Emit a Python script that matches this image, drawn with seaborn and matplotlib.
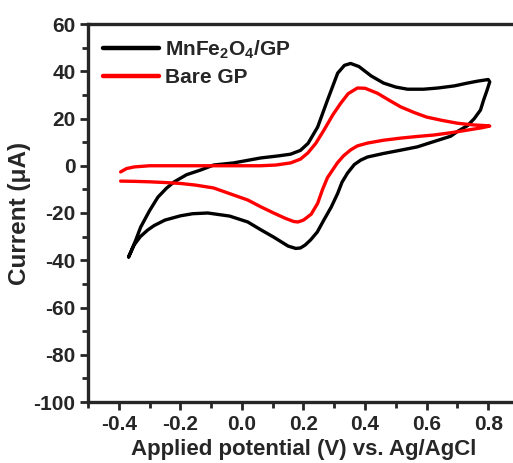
import numpy as np
import pandas as pd
import seaborn as sns
import matplotlib
matplotlib.use('Agg')
import matplotlib.pyplot as plt
from matplotlib.ticker import MultipleLocator

sns.set_style('ticks')
plt.rcParams['font.family'] = ['Liberation Sans', 'DejaVu Sans']
plt.rcParams['font.weight'] = 'bold'
plt.rcParams['axes.unicode_minus'] = False
plt.rcParams['mathtext.fontset'] = 'custom'
plt.rcParams['mathtext.rm'] = 'Liberation Sans:bold'
plt.rcParams['mathtext.bf'] = 'Liberation Sans:bold'
plt.rcParams['mathtext.default'] = 'bf'

# MnFe2O4/GP cyclic voltammogram (closed loop)
mn_v = [-0.368, -0.345, -0.329, -0.30, -0.273, -0.245, -0.221, -0.18, -0.134, -0.092,
        -0.027, 0.061, 0.120, 0.158, 0.19, 0.215, 0.246, 0.278, 0.311, 0.333, 0.353,
        0.38, 0.42, 0.46, 0.50, 0.538, 0.59, 0.636, 0.69, 0.733, 0.765, 0.79, 0.80,
        0.805, 0.795, 0.785, 0.775, 0.755, 0.733, 0.70, 0.678, 0.613, 0.57, 0.516,
        0.46, 0.408, 0.386, 0.365, 0.343, 0.325, 0.311, 0.29, 0.266, 0.245, 0.223,
        0.205, 0.19, 0.175, 0.15, 0.103, 0.06, 0.019, -0.04, -0.111, -0.16, -0.2,
        -0.25, -0.285, -0.306, -0.33, -0.35, -0.368]
mn_i = [-38.6, -31.5, -26.0, -19.0, -13.3, -9.5, -6.9, -3.8, -1.8, 0.3,
        1.2, 3.3, 4.2, 4.9, 6.5, 9.5, 16.4, 27.8, 39.2, 42.5, 43.3,
        42.0, 38.0, 35.0, 33.3, 32.4, 32.4, 32.9, 33.8, 35.0, 35.8, 36.3, 36.5,
        35.5, 31.5, 27.8, 23.6, 20.0, 17.0, 14.5, 12.5, 9.8, 8.0, 6.6,
        5.2, 3.7, 2.4, 0.5, -3.1, -7.0, -11.7, -17.5, -23.0, -28.0, -31.4,
        -33.6, -34.8, -35.0, -34.0, -30.2, -27.0, -23.8, -21.3, -20.0, -20.3, -21.2,
        -23.0, -25.3, -27.2, -30.0, -33.5, -38.6]

# Bare GP cyclic voltammogram
gp_v = [-0.394, -0.375, -0.35, -0.30, -0.20, -0.10, 0.0, 0.06, 0.11, 0.158, 0.19,
        0.214, 0.24, 0.266, 0.295, 0.32, 0.345, 0.375, 0.40, 0.44, 0.48, 0.516,
        0.56, 0.60, 0.65, 0.70, 0.75, 0.79, 0.805, 0.78, 0.733, 0.68, 0.623,
        0.57, 0.516, 0.46, 0.408, 0.375, 0.353, 0.33, 0.31, 0.278, 0.262, 0.246,
        0.225, 0.2, 0.182, 0.168, 0.14, 0.103, 0.06, 0.019, -0.04, -0.092, -0.15,
        -0.199, -0.25, -0.30, -0.35, -0.394]
gp_i = [-2.6, -1.2, -0.5, 0.0, 0.0, 0.0, 0.0, 0.0, 0.3, 1.2, 2.8,
        5.4, 9.5, 15.0, 21.5, 26.3, 30.5, 32.9, 32.8, 30.7, 27.6, 24.9,
        22.5, 20.6, 19.2, 18.0, 17.3, 17.0, 16.8, 16.1, 15.1, 14.0, 13.0,
        12.4, 11.7, 10.8, 9.6, 8.4, 6.7, 4.2, 1.2, -5.0, -10.0, -15.9,
        -20.5, -23.0, -23.8, -23.6, -22.2, -20.0, -17.3, -14.5, -11.8, -9.4, -8.2,
        -7.5, -7.1, -6.8, -6.6, -6.5]

mn = pd.DataFrame({'v': mn_v, 'i': mn_i})
gp = pd.DataFrame({'v': gp_v, 'i': gp_i})

fig = plt.figure(figsize=(5.13, 4.63), dpi=100)
ax = fig.add_axes([88 / 513, 61 / 463, 431 / 513, 378 / 463])

sns.lineplot(data=mn, x='v', y='i', sort=False, estimator=None, color='black', lw=2.4, ax=ax,
             label=r'MnFe$_2$O$_4$/GP')
sns.lineplot(data=gp, x='v', y='i', sort=False, estimator=None, color='#ff0000', lw=2.4, ax=ax,
             label='Bare GP')

ax.set_xlim(-0.5, 0.9)
ax.set_ylim(-100, 60)
ax.xaxis.set_minor_locator(MultipleLocator(0.1))
ax.yaxis.set_major_locator(MultipleLocator(20))
ax.yaxis.set_minor_locator(MultipleLocator(10))
ax.set_xticks([-0.4, -0.2, 0.0, 0.2, 0.4, 0.6, 0.8])
ax.set_xticklabels(['-0.4', '-0.2', '0.0', '0.2', '0.4', '0.6', '0.8'])

for s in ['left', 'bottom', 'top']:
    ax.spines[s].set_linewidth(2.4)
ax.spines['right'].set_visible(False)
ax.tick_params(which='major', direction='out', length=6, width=2, labelsize=15, pad=3)
ax.tick_params(which='minor', direction='out', length=4, width=2)
ax.tick_params(top=False, right=False, which='both')

ax.set_xlabel('Applied potential (V) vs. Ag/AgCl', fontsize=16, fontweight='bold', labelpad=4)
ax.set_ylabel('Current (\u03bcA)', fontsize=17.5, fontweight='bold', labelpad=2)

leg = ax.legend(loc='upper left', frameon=False, fontsize=15, handlelength=2.7,
                handletextpad=0.3, borderaxespad=0.3, labelspacing=0.35)
for h in leg.get_lines():
    h.set_linewidth(3.2)

fig.savefig('out.png', dpi=100)
